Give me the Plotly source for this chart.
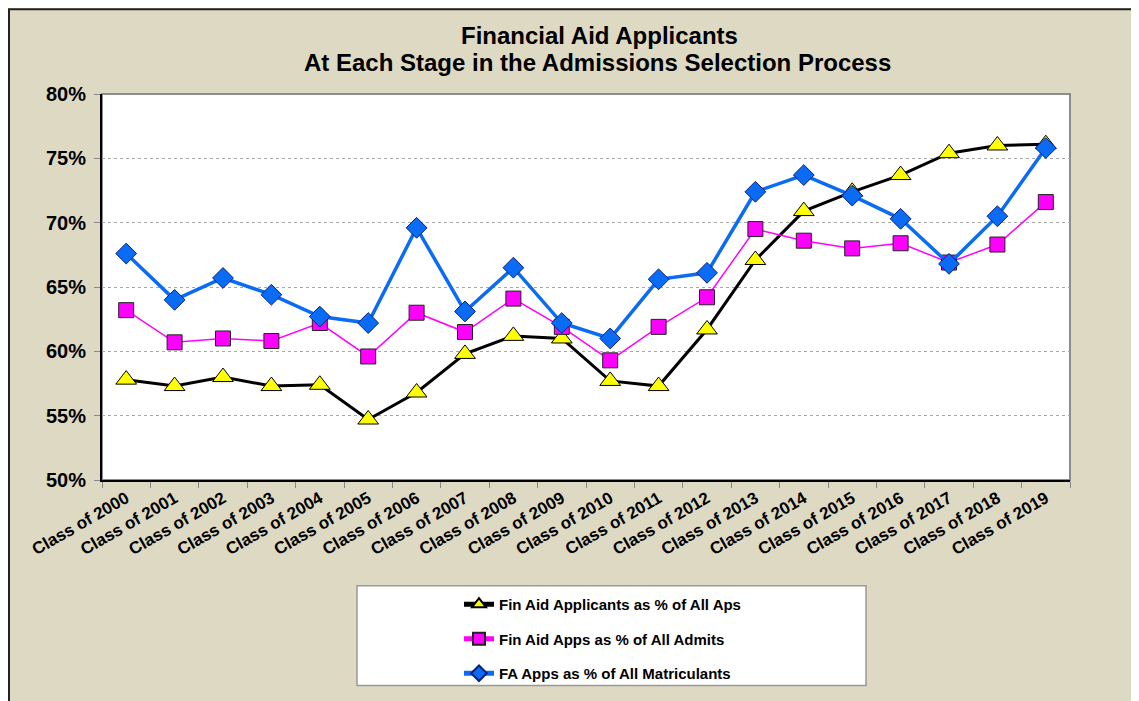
import plotly.graph_objects as go

classes = [f"Class of {y}" for y in range(2000, 2020)]

fin_aid_applicants = [57.8, 57.3, 58.0, 57.3, 57.4, 54.7, 56.8, 59.8, 61.2, 61.0,
                      57.7, 57.3, 61.7, 67.1, 70.9, 72.4, 73.7, 75.4, 76.0, 76.1]
fin_aid_admits = [63.2, 60.7, 61.0, 60.8, 62.2, 59.6, 63.0, 61.5, 64.1, 61.9,
                  59.3, 61.9, 64.2, 69.5, 68.6, 68.0, 68.4, 66.9, 68.3, 71.6]
fa_matriculants = [67.6, 64.0, 65.7, 64.4, 62.7, 62.2, 69.6, 63.1, 66.5, 62.2,
                   61.0, 65.6, 66.1, 72.4, 73.7, 72.1, 70.3, 66.8, 70.5, 75.8]

BEIGE = "#DDD9C3"
FONT = "Liberation Sans, Arial, sans-serif"

# page body has an 8px margin, so the figure starts at (8, 8) on screen
OFF = 8
FIG_W, FIG_H = 1139 - OFF, 701 - OFF

# plot area in screen pixels
L, R, T, B = 102, 1070, 94, 481
W, H = R - L, B - T


def px_x(x):
    return (x - L) / W


def px_y(y):
    return (B - y) / H


fig = go.Figure([
    go.Scatter(
        x=classes, y=fin_aid_applicants,
        name="<b>Fin Aid Applicants as % of All Aps</b>",
        legendgroup="a",
        mode="lines+markers",
        line=dict(color="black", width=3),
        marker=dict(symbol="triangle-up", size=18, color="#FFFF00",
                    line=dict(color="black", width=1))
    ),
    go.Scatter(
        x=classes, y=fin_aid_admits,
        name="<b>Fin Aid Apps as % of All Admits</b>",
        legendgroup="b",
        mode="lines+markers",
        line=dict(color="#FF00FF", width=1.5),
        marker=dict(symbol="square", size=15, color="#FF00FF",
                    line=dict(color="#222222", width=1))
    ),
    go.Scatter(
        x=classes, y=fa_matriculants,
        name="<b>FA Apps as % of All Matriculants</b>",
        legendgroup="c",
        mode="lines+markers",
        line=dict(color="#0A6CF5", width=3.5),
        marker=dict(symbol="diamond", size=16, color="#0A6CF5",
                    line=dict(color="#0A1E80", width=1))
    ),
])

fig.update_layout(
    width=FIG_W, height=FIG_H,
    margin=dict(l=L - OFF, r=1139 - R, t=T - OFF, b=701 - B),
    paper_bgcolor=BEIGE,
    plot_bgcolor="white",
    font=dict(family=FONT, color="black"),
    showlegend=True,
    legend=dict(
        x=px_x(459), xanchor="left",
        y=px_y(588), yanchor="top",
        bgcolor="rgba(0,0,0,0)",
        font=dict(size=15, family=FONT),
        tracegroupgap=12,
        traceorder="grouped",
        itemsizing="constant"
    ),
    annotations=[
        dict(text="<b>Financial Aid Applicants</b>", xref="paper", yref="paper",
             x=px_x(599), y=px_y(35), xanchor="center", yanchor="middle",
             showarrow=False, font=dict(size=24, family=FONT)),
        dict(text="<b>At Each Stage in the Admissions Selection Process</b>",
             xref="paper", yref="paper",
             x=px_x(597), y=px_y(62), xanchor="center", yanchor="middle",
             showarrow=False, font=dict(size=24, family=FONT)),
    ],
    shapes=[
        # outer frame
        dict(type="rect", xref="paper", yref="paper",
             x0=px_x(OFF + 1), x1=px_x(1138), y0=px_y(720), y1=px_y(OFF + 1),
             line=dict(color="#222222", width=2), layer="below"),
        # plot area border
        dict(type="rect", xref="paper", yref="paper",
             x0=0, x1=1, y0=0, y1=1,
             line=dict(color="#8C8C8C", width=2), layer="below"),
        # legend box
        dict(type="rect", xref="paper", yref="paper",
             x0=px_x(357), x1=px_x(866), y0=px_y(687), y1=px_y(587),
             fillcolor="white", line=dict(color="#999999", width=1.5), layer="below"),
    ],
)

fig.update_xaxes(
    type="category",
    range=[-0.5, 19.5],
    showgrid=False,
    showline=True, linecolor="black", linewidth=2,
    ticks="outside", tickson="boundaries", ticklen=6, tickcolor="#888888",
    tickangle=-30,
    tickfont=dict(size=17, family=FONT),
    tickprefix="<b>", ticksuffix="</b>",
)

fig.update_yaxes(
    range=[50, 80], dtick=5,
    showgrid=True, gridcolor="#A8A8A8", griddash="dot", gridwidth=1,
    showline=True, linecolor="black", linewidth=2,
    ticks="outside", ticklen=6, tickcolor="#888888",
    ticklabelstandoff=4,
    tickfont=dict(size=20, family=FONT),
    tickprefix="<b>", ticksuffix="%</b>",
    zeroline=False,
)

fig.write_html("out.html")
